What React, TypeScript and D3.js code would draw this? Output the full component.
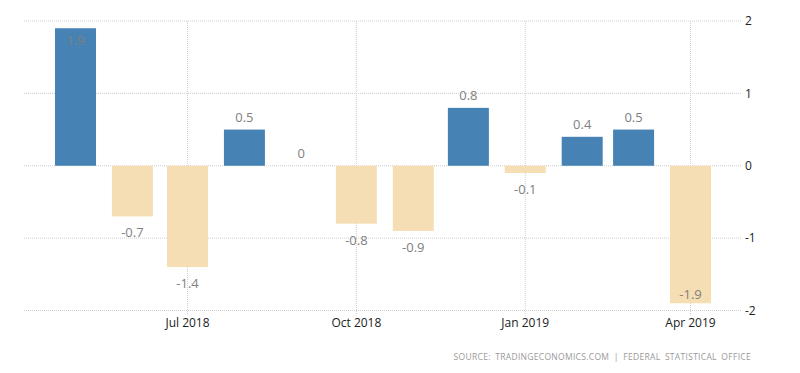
import React from "react";
import * as d3 from "d3";

const months: string[] = [
  "2018-05", "2018-06", "2018-07", "2018-08", "2018-09", "2018-10",
  "2018-11", "2018-12", "2019-01", "2019-02", "2019-03", "2019-04",
];
const values: number[] = [1.9, -0.7, -1.4, 0.5, 0, -0.8, -0.9, 0.8, -0.1, 0.4, 0.5, -1.9];
const xTickMonths: string[] = ["2018-07", "2018-10", "2019-01", "2019-04"];
const xTickLabels: string[] = ["Jul 2018", "Oct 2018", "Jan 2019", "Apr 2019"];
const yTicks: number[] = [2, 1, 0, -1, -2];
const sourceText = "SOURCE: TRADINGECONOMICS.COM | FEDERAL STATISTICAL OFFICE";

const W = 800;
const H = 373;
const plotLeft = 24;
const plotRight = 741;
const plotTop = 21;
const plotBottom = 310.5;

const parse = (s: string) => {
  const [y, m] = s.split("-").map(Number);
  return new Date(y, m - 1, 1);
};

export default function App() {
  const x = d3
    .scaleTime()
    .domain([parse("2018-07"), parse("2019-04")])
    .range([187.5, 690.5]);
  const y = d3.scaleLinear().domain([-2, 2]).range([plotBottom, plotTop]);
  const barW = 41;
  const font = "'Open Sans', 'DejaVu Sans', sans-serif";

  return (
    <svg
      width={W}
      height={H}
      style={{ position: "absolute", left: 0, top: 0, background: "#fff" }}
    >
      {yTicks.map((t) => (
        <g key={"y" + t}>
          <line
            x1={plotLeft}
            x2={plotRight}
            y1={y(t)}
            y2={y(t)}
            stroke="#cfcfcf"
            strokeWidth={1}
            strokeDasharray="1,1"
          />
          <text
            x={745}
            y={y(t)}
            dy="0.35em"
            fontFamily={font}
            fontSize={12}
            fill="#222"
          >
            {String(t)}
          </text>
        </g>
      ))}
      {xTickMonths.map((m, i) => (
        <g key={"x" + m}>
          <line
            x1={x(parse(m))}
            x2={x(parse(m))}
            y1={plotTop}
            y2={plotBottom + 5}
            stroke="#cfcfcf"
            strokeWidth={1}
            strokeDasharray="1,1"
          />
          <text
            x={x(parse(m))}
            y={327}
            textAnchor="middle"
            fontFamily={font}
            fontSize={12}
            fill="#222"
          >
            {xTickLabels[i]}
          </text>
        </g>
      ))}
      {months.map((m, i) => {
        const v = values[i];
        const cx = x(parse(m));
        const y0 = y(0);
        const yv = y(v);
        const top = Math.min(y0, yv);
        const h = Math.abs(yv - y0);
        let ly: number;
        if (v >= 0) {
          ly = yv - 8;
          if (ly - 10 < plotTop) ly = yv + 17;
        } else {
          ly = yv + 21;
          if (ly > plotBottom) ly = yv - 4;
        }
        return (
          <g key={m}>
            {h > 0 && (
              <rect
                x={cx - barW / 2}
                y={top}
                width={barW}
                height={h}
                fill={v >= 0 ? "#4682b4" : "#f5deb3"}
              />
            )}
            <text
              x={cx}
              y={ly}
              textAnchor="middle"
              fontFamily={font}
              fontSize={13}
              fill="#808080"
            >
              {String(v)}
            </text>
          </g>
        );
      })}
      <text
        x={751}
        y={360}
        textAnchor="end"
        fontFamily={font}
        fontSize={8.5}
        letterSpacing={0.3}
        wordSpacing={2}
        fill="#9a9a9a"
      >
        {sourceText}
      </text>
    </svg>
  );
}
